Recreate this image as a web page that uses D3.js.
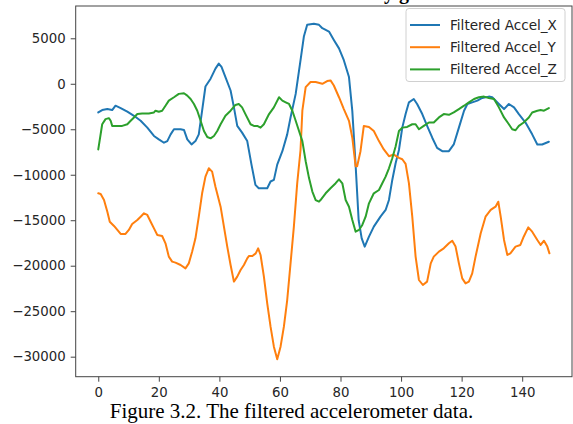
<!DOCTYPE html>
<html>
<head>
<meta charset="utf-8">
<script src="https://cdn.jsdelivr.net/npm/d3@7/dist/d3.min.js"></script>
<style>
  html, body { margin: 0; padding: 0; background: #fff; }
  svg { display: block; }
</style>
</head>
<body>
<svg id="chart" width="573" height="424"></svg>
<script>
// ---- data: [sample index, value] ----
const accelX = [[0,-3150],[1.3,-2890],[3,-2780],[4.6,-2890],[5.7,-2410],[7.4,-2670],[9.6,-3070],[11.8,-3520],[14,-4070],[16.2,-4820],[18.4,-5740],[20,-6110],[21.7,-6480],[22.8,-6300],[23.9,-5560],[25,-5000],[27.2,-5000],[28.3,-5070],[29.4,-6110],[30.8,-6670],[32.1,-6300],[33.2,-5560],[34.3,-2960],[35.4,-300],[37.1,560],[38.7,1670],[39.8,2220],[40.7,1850],[42,740],[43.7,-740],[44.8,-2590],[45.9,-4630],[47.5,-5370],[49.2,-6300],[50.6,-8890],[51.9,-11110],[53,-11480],[55.8,-11480],[56.9,-10740],[58,-10560],[59.1,-8890],[60.8,-7410],[62.4,-5560],[63.5,-3700],[65.2,-1110],[66.8,2590],[67.9,5190],[69,6480],[71.2,6590],[72.9,6480],[74,6110],[76.2,5740],[77.8,4820],[79.5,3890],[81.1,2590],[82.8,740],[83.9,-3000],[85,-9000],[86,-15000],[87,-17000],[88,-17900],[89.4,-16800],[91,-15700],[93.2,-14600],[94.9,-13870],[96,-12770],[97.1,-10570],[98.2,-8740],[99.3,-7280],[100.4,-4820],[101.5,-3330],[102.6,-2040],[104.2,-1670],[105.3,-2220],[107,-3330],[108.6,-4630],[110.3,-5930],[111.9,-7040],[113.6,-7410],[115.8,-7410],[117.4,-6670],[119.1,-4820],[120.8,-2960],[121.9,-2220],[123.5,-2040],[125.2,-1850],[126.8,-1560],[129,-1410],[130.1,-1480],[132.3,-2220],[134,-2780],[135.6,-2220],[137.3,-2590],[138.9,-3330],[141.1,-4260],[143.3,-5560],[145,-6670],[146.6,-6670],[148.8,-6370]];

const accelY = [[0,-12040],[0.8,-12110],[1.9,-12770],[3,-14060],[3.8,-15160],[5.2,-15630],[6.3,-16070],[7.4,-16510],[9,-16510],[10.1,-16070],[11.2,-15410],[12.9,-14970],[14,-14610],[15.1,-14240],[16.2,-14420],[17.3,-15160],[18.4,-15890],[19.5,-16620],[21.1,-16730],[22.2,-17540],[23.3,-19000],[24.4,-19550],[25.5,-19660],[27.2,-19920],[28.8,-20290],[29.9,-19740],[31,-18460],[32.1,-16990],[33.2,-14610],[34.3,-12040],[35.4,-10210],[36.5,-9290],[37.6,-9660],[38.7,-11310],[40.4,-13510],[41.5,-15710],[42.6,-17900],[43.7,-19920],[44.8,-21750],[45.9,-21200],[47,-20470],[48.1,-19920],[49.2,-19190],[49.8,-18930],[50.9,-18930],[52,-18640],[52.8,-18090],[53.6,-18820],[54.7,-21200],[55.8,-24140],[56.9,-26700],[58,-28900],[59.1,-30290],[60.2,-28900],[61.3,-26700],[62.4,-23770],[63.5,-19740],[64.6,-15710],[65.7,-10940],[66.8,-7280],[67.4,-2960],[68.5,-370],[70.1,190],[71.8,190],[74,0],[75.6,300],[76.7,370],[77.8,-190],[79.5,-1480],[81.1,-2780],[82.8,-4070],[83.9,-5930],[85,-9070],[85.5,-9070],[86.6,-7410],[87.7,-4630],[89.4,-4740],[91,-5190],[92.7,-6300],[94.3,-7220],[96,-7960],[97.6,-7780],[99.3,-8150],[100.4,-8300],[101.5,-8800],[102.6,-10940],[103.7,-14610],[104.8,-19000],[105.9,-21570],[107.2,-22120],[108.6,-21750],[109.8,-19740],[110.8,-19000],[112.5,-18450],[114.1,-18090],[115.8,-17540],[116.9,-17250],[118,-17900],[119.1,-19740],[120.2,-21390],[121.3,-21940],[122.4,-21750],[123.5,-20840],[124.6,-19000],[126.3,-16440],[127.9,-14610],[129.6,-13870],[131.2,-13510],[132.1,-12960],[132.9,-14610],[134,-17170],[135.1,-18820],[136.1,-18640],[137.8,-17900],[139.4,-17720],[140.5,-16810],[142,-15780],[143.3,-16260],[145,-17170],[146.1,-17720],[147.2,-17250],[148.3,-17900],[149,-18640]];

const accelZ = [[0,-7220],[1.3,-4450],[2.4,-3890],[3.5,-3780],[4.1,-4070],[4.6,-4630],[6.3,-4630],[7.9,-4630],[9.6,-4450],[10.7,-4070],[11.8,-3700],[12.9,-3330],[14.5,-3260],[16.7,-3260],[18.4,-3150],[18.9,-2960],[20,-3070],[21.1,-2960],[22.2,-2410],[23.3,-1850],[25,-1480],[26.6,-1110],[28.3,-1040],[29.4,-1300],[30.5,-1670],[31.6,-2220],[32.7,-2960],[33.8,-4070],[34.9,-5190],[36,-5850],[37.1,-6000],[38.2,-5740],[39.3,-5190],[40.4,-4450],[42,-3520],[43.7,-2960],[45.3,-2330],[46.4,-2220],[47.5,-2590],[48.6,-3330],[50.3,-4450],[51.4,-4630],[52.5,-4630],[53.6,-4820],[54.7,-4450],[56.4,-3330],[58,-2590],[59.7,-1480],[60.8,-1850],[61.9,-2040],[63,-2220],[64.1,-2960],[65.2,-4070],[66.3,-5190],[67.4,-6300],[68.5,-8520],[69.6,-10370],[70.7,-11850],[71.8,-12780],[72.9,-12960],[73.4,-12780],[75.1,-12040],[76.7,-11480],[78.4,-10930],[79.5,-10500],[80.6,-10940],[81.7,-12780],[82.8,-13510],[83.9,-14970],[85,-16260],[86.1,-16070],[87.2,-15520],[88.3,-14610],[89.4,-13140],[91,-12040],[92.7,-11680],[93.8,-10940],[94.9,-10210],[96,-9290],[97.1,-8190],[98.2,-6900],[99.3,-5190],[100.4,-4820],[102,-4740],[103.7,-4450],[104.8,-4450],[105.9,-5000],[107.5,-4630],[109.2,-4260],[110.8,-4260],[112.5,-3700],[114.1,-3330],[115.8,-3410],[117.4,-3150],[119.1,-2780],[120.8,-2410],[122.4,-2040],[124.1,-1670],[125.7,-1480],[127.4,-1410],[129,-1560],[130.7,-1670],[132.3,-2590],[134,-3700],[135.6,-4450],[136.7,-5000],[137.8,-5110],[138.9,-4630],[140.5,-4260],[142.2,-3700],[143.3,-3150],[145,-2960],[146.1,-2890],[147.2,-2960],[148.8,-2670]];

const seriesNames = ["Filtered Accel_X", "Filtered Accel_Y", "Filtered Accel_Z"];
const seriesColors = ["#1f77b4", "#ff7f0e", "#2ca02c"];
const xTicks = [0, 20, 40, 60, 80, 100, 120, 140];
const yTicks = [5000, 0, -5000, -10000, -15000, -20000, -25000, -30000];
const caption = "Figure 3.2. The filtered accelerometer data.";
const titleFragment = "y g";

// ---- layout ----
const svg = d3.select("#chart");
const L = 75.7, R = 572, T = 6, B = 376.7;
const x = d3.scaleLinear().domain([-7.45, 156.45]).range([L, R]);
const y = d3.scaleLinear().domain([-32200, 8550]).range([B, T]);
const fmt = v => String(v).replace("-", "\u2212");
const font = "'DejaVu Sans', sans-serif";

// clipped title fragment at the very top (the reference is cropped through it)
svg.append("text").attr("x", 384).attr("y", -1)
  .attr("font-family", "'Liberation Serif', serif").attr("font-weight", "bold")
  .attr("font-size", 20).attr("fill", "#000").text(titleFragment);

// lines
const line = d3.line().x(d => x(d[0])).y(d => y(d[1])).curve(d3.curveLinear);
const clip = svg.append("clipPath").attr("id", "plotclip");
clip.append("rect").attr("x", L).attr("y", T).attr("width", R - L).attr("height", B - T);
const gLines = svg.append("g").attr("clip-path", "url(#plotclip)");
[accelX, accelY, accelZ].forEach((s, k) => {
  gLines.append("path").datum(s).attr("d", line)
    .attr("fill", "none").attr("stroke", seriesColors[k])
    .attr("stroke-width", 2).attr("stroke-linejoin", "round").attr("stroke-linecap", "round");
});

// axes
const axisColor = "#444";
const gx = svg.append("g").attr("transform", `translate(0,${B})`)
  .call(d3.axisBottom(x).tickValues(xTicks).tickSize(5).tickPadding(6).tickFormat(fmt));
const gy = svg.append("g").attr("transform", `translate(${L},0)`)
  .call(d3.axisLeft(y).tickValues(yTicks).tickSize(5).tickPadding(5).tickFormat(fmt));
[gx, gy].forEach(g => {
  g.select(".domain").remove();
  g.selectAll(".tick line").attr("stroke", axisColor).attr("stroke-width", 1);
  g.selectAll(".tick text").attr("fill", "#262626").attr("font-family", font).attr("font-size", 13.3);
});

// frame
svg.append("rect").attr("x", L).attr("y", T).attr("width", R - L).attr("height", B - T)
  .attr("fill", "none").attr("stroke", axisColor).attr("stroke-width", 1);

// legend
const lg = svg.append("g");
lg.append("rect").attr("x", 406).attr("y", 8.5).attr("width", 159).attr("height", 73).attr("rx", 3)
  .attr("fill", "#fff").attr("fill-opacity", 0.8).attr("stroke", "#d0d0d0").attr("stroke-width", 1);
seriesNames.forEach((n, k) => {
  const yy = 25 + k * 22.2;
  lg.append("line").attr("x1", 410).attr("x2", 440).attr("y1", yy).attr("y2", yy)
    .attr("stroke", seriesColors[k]).attr("stroke-width", 2);
  lg.append("text").attr("x", 450).attr("y", yy).attr("dy", "0.35em")
    .attr("font-family", font).attr("font-size", 13.6).attr("fill", "#262626").text(n);
});

// caption
svg.append("text").attr("x", 291.5).attr("y", 418).attr("text-anchor", "middle")
  .attr("font-family", "'Liberation Serif', 'Times New Roman', serif").attr("font-size", 21)
  .attr("fill", "#000").text(caption);
</script>
</body>
</html>
